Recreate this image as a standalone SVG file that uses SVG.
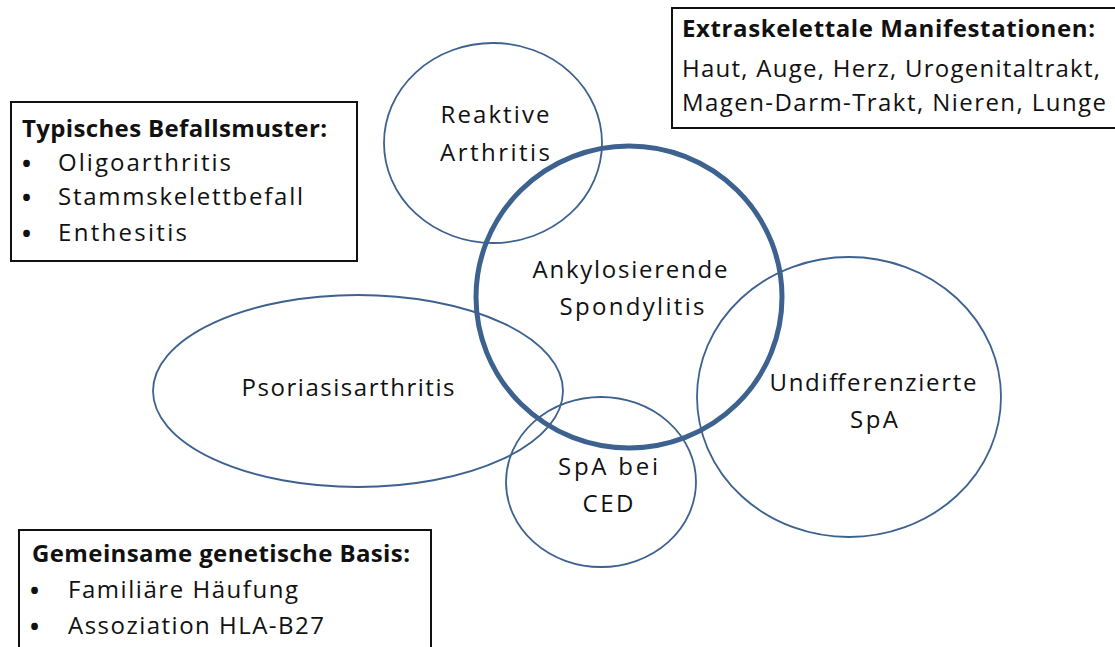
<svg xmlns="http://www.w3.org/2000/svg" width="1115" height="647" viewBox="0 0 1115 647">
<style>
text{font-family:"Open Sans","Noto Sans","Liberation Sans",sans-serif;font-size:24px;fill:#111}
.b{font-weight:bold}
.c{text-anchor:middle}
.d{font-size:24px;font-weight:bold}
.e{fill:none;stroke:#3d6290;stroke-width:1.8}
.m{fill:none;stroke:#3d6290;stroke-width:5}
.box{fill:#fff;stroke:#111;stroke-width:2}
</style>
<rect width="1115" height="647" fill="#fff"/>
<g id="connectors"/>
<g id="reaktive"><ellipse class="e" cx="493" cy="143" rx="109" ry="100"/><text class="c" x="495" y="123" textLength="109">Reaktive</text><text class="c" x="495" y="161" textLength="110">Arthritis</text></g>
<g id="psoriasis"><ellipse class="e" cx="358" cy="391" rx="205" ry="96"/><text class="c" x="348" y="396" textLength="213">Psoriasisarthritis</text></g>
<g id="ced"><ellipse class="e" cx="601" cy="482" rx="95" ry="85"/><text class="c" x="608" y="475" textLength="100">SpA bei</text><text class="c" x="608" y="512" textLength="51">CED</text></g>
<g id="undiff"><ellipse class="e" cx="849" cy="397" rx="152" ry="140"/><text class="c" x="873" y="391" textLength="207">Undifferenzierte</text><text class="c" x="874" y="428" textLength="48">SpA</text></g>
<g id="as"><ellipse class="m" cx="629" cy="297" rx="153" ry="151"/><text class="c" x="630" y="278" textLength="195">Ankylosierende</text><text class="c" x="632" y="315" textLength="145">Spondylitis</text></g>
<g id="befall"><rect class="box" x="11" y="102" width="346" height="159"/><text class="b" x="22" y="137" textLength="305">Typisches Befallsmuster:</text><text class="d" x="22" y="172">•</text><text x="58" y="171" textLength="173">Oligoarthritis</text><text class="d" x="22" y="206">•</text><text x="58" y="205" textLength="245">Stammskelettbefall</text><text class="d" x="22" y="242">•</text><text x="58" y="241" textLength="129">Enthesitis</text></g>
<g id="extra"><rect class="box" x="672" y="8" width="450" height="120"/><text class="b" x="682" y="37" textLength="413">Extraskelettale Manifestationen:</text><text x="682" y="77" textLength="418">Haut, Auge, Herz, Urogenitaltrakt,</text><text x="682" y="111" textLength="424">Magen-Darm-Trakt, Nieren, Lunge</text></g>
<g id="genetik"><rect class="box" x="19" y="530" width="412" height="130"/><text class="b" x="32" y="562" textLength="378">Gemeinsame genetische Basis:</text><text class="d" x="30" y="599">•</text><text x="68" y="598" textLength="230">Familiäre Häufung</text><text class="d" x="30" y="635">•</text><text x="68" y="634" textLength="256">Assoziation HLA-B27</text></g>
</svg>
